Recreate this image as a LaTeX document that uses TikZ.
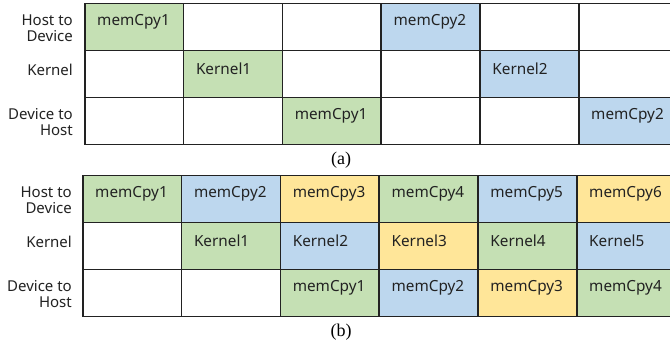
\documentclass[tikz,border=0pt]{standalone}
\usepackage{fontspec}
\setmainfont{Liberation Serif}
\newfontfamily\cellfont{Noto Sans}
\usetikzlibrary{calc}
\definecolor{cg}{HTML}{C5E0B4}
\definecolor{cb}{HTML}{BDD7EE}
\definecolor{cy}{HTML}{FFE699}
\definecolor{ink}{HTML}{222222}
\tikzset{
  cellbox/.style={draw=ink, line width=1.5pt, minimum width=98.8pt, minimum height=47pt, inner sep=0pt, anchor=north west},
  celltxt/.style={anchor=west, font=\cellfont\fontsize{15.3}{16}\selectfont, text=ink, inner sep=0pt},
  rowlab/.style={anchor=east, align=right, font=\cellfont\fontsize{15}{15.8}\selectfont, text=ink, inner sep=0pt},
  capt/.style={font=\fontsize{18}{20}\selectfont, inner sep=0pt}
}
\begin{document}
\begin{tikzpicture}[x=1pt,y=-1pt]
\clip (0,0) rectangle (670,347);
\fill[white] (0,0) rectangle (670,347);
% ---- grid (a)
\foreach \r in {1,2,3}{\foreach \c in {1,...,6}{
  \node[cellbox, fill=white] (a-\r-\c) at ({84+(\c-1)*98.8},{3+(\r-1)*47}) {};
}}
\foreach \r/\c/\f/\t in {1/1/cg/memCpy1, 2/2/cg/Kernel1, 3/3/cg/memCpy1, 1/4/cb/memCpy2, 2/5/cb/Kernel2, 3/6/cb/memCpy2}{
  \node[cellbox, fill=\f] (ac-\r-\c) at ({84+(\c-1)*98.8},{3+(\r-1)*47}) {};
  \node[celltxt] (at-\r-\c) at ($(ac-\r-\c.north west)+(13,19)$) {\t};
}
\node[rowlab] (al1) at (73,28) {Host to\\Device};
\node[rowlab] (al2) at (73,70) {Kernel};
\node[rowlab] (al3) at (73,122) {Device to\\Host};
\node[capt] (capa) at (341,160) {(a)};
% ---- grid (b)
\foreach \r in {1,2,3}{\foreach \c in {1,...,6}{
  \node[cellbox, fill=white] (b-\r-\c) at ({82+(\c-1)*98.8},{175+(\r-1)*47}) {};
}}
\foreach \r/\c/\f/\t in {1/1/cg/memCpy1, 1/2/cb/memCpy2, 1/3/cy/memCpy3, 1/4/cg/memCpy4, 1/5/cb/memCpy5, 1/6/cy/memCpy6,
  2/2/cg/Kernel1, 2/3/cb/Kernel2, 2/4/cy/Kernel3, 2/5/cg/Kernel4, 2/6/cb/Kernel5,
  3/3/cg/memCpy1, 3/4/cb/memCpy2, 3/5/cy/memCpy3, 3/6/cg/memCpy4}{
  \node[cellbox, fill=\f] (bc-\r-\c) at ({82+(\c-1)*98.8},{175+(\r-1)*47}) {};
  \node[celltxt] (bt-\r-\c) at ($(bc-\r-\c.north west)+(13,19)$) {\t};
}
\node[rowlab] (bl1) at (72,200) {Host to\\Device};
\node[rowlab] (bl2) at (72,242) {Kernel};
\node[rowlab] (bl3) at (72,294) {Device to\\Host};
\node[capt] (capb) at (341,332) {(b)};
\end{tikzpicture}
\end{document}
